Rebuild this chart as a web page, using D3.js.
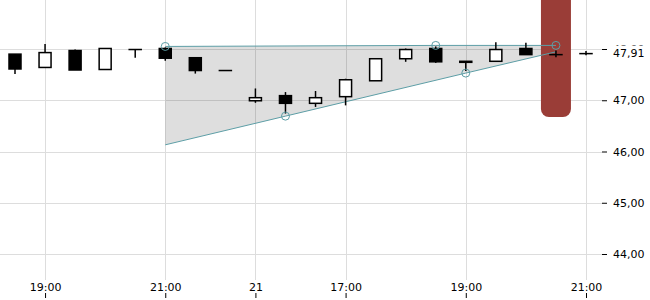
<!DOCTYPE html>
<html><head><meta charset="utf-8">
<script src="https://cdn.jsdelivr.net/npm/d3@7"></script>
<style>body{margin:0;background:#fff}svg{display:block}text{font-family:"DejaVu Sans",sans-serif}</style>
</head><body>
<svg id="c" width="650" height="300"></svg>
<script>
const categories = ["20 18:30","20 19:00","20 19:30","20 20:00","20 20:30","20 21:00","20 21:30","20 22:00",
  "21 15:30","21 16:00","21 16:30","21 17:00","21 17:30","21 18:00","21 18:30","21 19:00","21 19:30","21 20:00","21 20:30","21 21:00"];
const open  = [47.90,47.64,47.97,47.60,47.99,48.01,47.83,47.58,46.99,47.09,46.94,47.07,47.38,47.81,48.01,47.76,47.76,48.01,47.89,47.91];
const high  = [47.90,48.10,47.99,48.01,47.99,48.03,47.83,47.58,47.23,47.16,47.18,47.42,47.81,48.01,48.05,47.76,48.13,48.12,47.97,47.96];
const low   = [47.51,47.64,47.59,47.60,47.83,47.77,47.52,47.58,46.95,46.74,46.87,46.90,47.38,47.75,47.73,47.57,47.76,47.89,47.84,47.88];
const close = [47.61,47.93,47.59,48.01,47.99,47.82,47.58,47.58,47.05,46.94,47.05,47.40,47.81,47.99,47.75,47.74,47.99,47.89,47.89,47.91];
const xTickCats   = ["20 19:00","20 21:00","21 15:30","21 17:00","21 19:00","21 21:00"];
const xTickLabels = ["19:00","21:00","21","17:00","19:00","21:00"];
const yTicks = [44,45,46,47,48];
const lastPrice = 47.91;
const highlightCat = "21 20:30";
const upperLine = [["20 21:00",48.05],["21 18:30",48.07],["21 20:30",48.07]];
const lowerLine = [["20 21:00",46.13],["21 16:00",46.69],["21 19:00",47.53],["21 20:30",47.945]];
const markers = [["20 21:00",48.05],["21 18:30",48.07],["21 20:30",48.07],["21 16:00",46.69],["21 19:00",47.53]];

const svg = d3.select("#c");
const x = d3.scalePoint().domain(categories).range([15, 586]);
const y = d3.scaleLinear().domain([44, 48]).range([254, 49]);
const fmt = v => v.toFixed(2).replace(".", ",");
const grid = "#dddddd", teal = "#5d9ea6";

// grid
svg.append("g").selectAll("line").data(yTicks).join("line")
  .attr("x1",0).attr("x2",602).attr("y1",d=>Math.round(y(d))+0.5).attr("y2",d=>Math.round(y(d))+0.5)
  .attr("stroke",grid);
svg.append("g").selectAll("line").data(xTickCats).join("line")
  .attr("x1",d=>Math.round(x(d))+0.5).attr("x2",d=>Math.round(x(d))+0.5).attr("y1",0).attr("y2",280)
  .attr("stroke",grid);

// pattern fill
const poly = upperLine.concat(lowerLine.slice().reverse());
svg.append("path").attr("d", d3.line().x(d=>x(d[0])).y(d=>y(d[1]))(poly)+"Z")
  .attr("fill","#000").attr("fill-opacity",0.13);

// highlight bar
const bw = 30;
svg.append("rect").attr("x", x(highlightCat)-bw/2).attr("y",-12).attr("width",bw).attr("height",129)
  .attr("rx",8).attr("fill","#9a3d37");

// lines
const ln = d3.line().x(d=>x(d[0])).y(d=>y(d[1]));
svg.append("path").attr("d",ln(upperLine)).attr("fill","none").attr("stroke",teal).attr("stroke-width",1);
svg.append("path").attr("d",ln(lowerLine)).attr("fill","none").attr("stroke",teal).attr("stroke-width",1);

// candles
const cw = 12;
const cg = svg.append("g").selectAll("g").data(categories.map((c,i)=>({c,o:open[i],h:high[i],l:low[i],cl:close[i]}))).join("g");
cg.append("line").attr("x1",d=>x(d.c)).attr("x2",d=>x(d.c)).attr("y1",d=>y(d.h)).attr("y2",d=>y(d.l))
  .attr("stroke","#000").attr("stroke-width",1.5);
cg.append("rect").attr("x",d=>x(d.c)-cw/2).attr("width",cw)
  .attr("y",d=>y(Math.max(d.o,d.cl))).attr("height",d=>Math.max(0.01,Math.abs(y(d.o)-y(d.cl))))
  .attr("fill",d=>d.cl>=d.o?"#fff":"#000").attr("stroke","#000").attr("stroke-width",1.5);

// markers
svg.append("g").selectAll("circle").data(markers).join("circle")
  .attr("cx",d=>x(d[0])).attr("cy",d=>y(d[1])).attr("r",4)
  .attr("fill","none").attr("stroke",teal).attr("stroke-width",1);

// right axis
const ra = svg.append("g").attr("transform","translate(602,0)")
  .call(d3.axisRight(y).tickValues(yTicks).tickSize(5).tickPadding(6).tickFormat(fmt));
ra.select(".domain").remove();
ra.selectAll("text").attr("font-size",11).attr("font-family","DejaVu Sans").attr("fill","#000");
// last price label
const lp = svg.append("g").attr("transform",`translate(0,${y(lastPrice)})`);
lp.append("rect").attr("x",609).attr("y",-8).attr("width",41).attr("height",16).attr("fill","#fff");
lp.append("text").attr("x",613).attr("dy","0.32em").attr("font-size",11).text(fmt(lastPrice));

// bottom axis
const ba = svg.append("g").attr("transform","translate(0,298)")
  .call(d3.axisTop(x).tickValues(xTickCats).tickSize(5).tickPadding(2).tickFormat((d,i)=>xTickLabels[i]));
ba.select(".domain").remove();
ba.selectAll("text").attr("font-size",11).attr("font-family","DejaVu Sans").attr("fill","#000");
</script>
</body></html>
